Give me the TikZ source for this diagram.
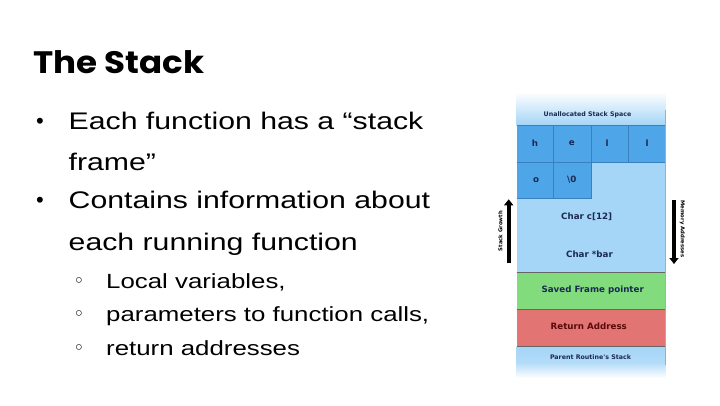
\documentclass[tikz,border=0pt]{standalone}
\usepackage{fontspec}
\usepackage{tikz}
\usetikzlibrary{positioning, arrows.meta}
\newfontfamily\bodyfont{Liberation Sans}[FakeStretch=1.26]
\newfontfamily\dotfont{Liberation Sans}
\newfontfamily\titlefont{Poppins}[FakeStretch=1.1]
\newfontfamily\stackfont{DejaVu Sans}
\definecolor{medblue}{HTML}{4EA5E8}
\definecolor{lightblue}{HTML}{A5D5F7}
\definecolor{framegreen}{HTML}{82DC7E}
\definecolor{retred}{HTML}{E27474}
\definecolor{cellline}{HTML}{3A80C0}
\definecolor{navy}{HTML}{1A2A50}
\definecolor{maroon}{HTML}{5A0A0A}

\begin{document}
\begin{tikzpicture}[x=1pt,y=-1pt,
  txt/.style={inner sep=0pt, anchor=base west},
  mainline/.style={txt, font=\bodyfont\fontsize{24}{28}\selectfont},
  subline/.style={txt, font=\bodyfont\fontsize{20.5}{24}\selectfont},
  bulletdot/.style={inner sep=0pt, anchor=base, font=\dotfont\fontsize{22}{26}\selectfont},
  subdot/.style={inner sep=0pt, anchor=base, font=\stackfont\fontsize{19}{22}\selectfont},
  celltext/.style={inner sep=0pt, text=navy, font=\stackfont\bfseries\fontsize{8.7}{10}\selectfont},
  smalltext/.style={inner sep=0pt, text=navy, font=\stackfont\bfseries\fontsize{6.3}{7}\selectfont},
  sidetext/.style={inner sep=0pt, font=\stackfont\bfseries\fontsize{5.3}{6}\selectfont},
  growarrow/.style={line width=4pt, -{Triangle[width=9pt,length=6pt]}}]
\useasboundingbox (0,0) rectangle (720,405);

% title and bullets
\node[txt, font=\titlefont\bfseries\fontsize{31}{36}\selectfont] (title) at (33,73.3) {The Stack};
\node[bulletdot] (b1) at (40,128) {•};
\node[mainline] (l1) at (68.5,129.3) {Each function has a “stack};
\node[mainline] (l2) at (68.5,170.5) {frame”};
\node[bulletdot] (b2) at (40,207.5) {•};
\node[mainline] (l3) at (68.5,208.7) {Contains information about};
\node[mainline] (l4) at (68.5,250) {each running function};
\node[subdot] (s1) at (79,287) {◦};
\node[subline] (sl1) at (106,288.3) {Local variables,};
\node[subdot] (s2) at (79,320.5) {◦};
\node[subline] (sl2) at (106,321.7) {parameters to function calls,};
\node[subdot] (s3) at (79,354) {◦};
\node[subline] (sl3) at (106,355) {return addresses};

% stack frame picture
\shade[top color=white, bottom color=lightblue] (516.7,92) rectangle (665.7,125);
\fill[lightblue] (516.7,162.3) rectangle (665.7,272.3);
\fill[medblue] (516.7,125) rectangle (665.7,162.3);
\fill[medblue] (516.7,162.3) rectangle (591.7,198.3);
\draw[cellline, line width=0.7pt] (516.7,125) -- (665.7,125)
  (516.7,162.3) -- (591.7,162.3) (516.7,198.3) -- (591.7,198.3)
  (553.3,125) -- (553.3,198.3) (591.7,125) -- (591.7,198.3)
  (628.3,125) -- (628.3,162.3) (591.7,162.3) -- (665.7,162.3);
\fill[framegreen] (516.7,272.3) rectangle (665.7,309.3);
\fill[retred] (516.7,309.3) rectangle (665.7,346.7);
\shade[top color=lightblue, bottom color=white, middle color=lightblue!85] (516.7,346.7) rectangle (665.7,378);
\draw[black!60, line width=0.6pt] (516.7,272.3) -- (665.7,272.3)
  (516.7,309.3) -- (665.7,309.3) (516.7,346.7) -- (665.7,346.7);
\draw[cellline!60, line width=0.5pt] (665.7,110) -- (665.7,365);

\node[smalltext] (unalloc) at (587.5,115) {Unallocated Stack Space};
\node[celltext] (ch) at (535,142.7) {h};
\node[celltext] (ce) at (571.7,142.7) {e};
\node[celltext] (cl1) at (607,142.7) {l};
\node[celltext] (cl2) at (647,142.7) {l};
\node[celltext] (co) at (536,180) {o};
\node[celltext] (cz) at (571.7,180) {\textbackslash 0};
\node[celltext] (arr) at (586.7,216.7) {Char c[12]};
\node[celltext] (bar) at (589.5,254) {Char *bar};
\node[celltext] (sfp) at (592.7,290) {Saved Frame pointer};
\node[celltext, text=maroon] (ret) at (588.8,326.7) {Return Address};
\node[smalltext] (parent) at (590.5,356.7) {Parent Routine's Stack};

% side arrows
\coordinate (growbot) at (508.7,263.3);
\coordinate (growtop) at (508.7,199.3);
\draw[growarrow] (growbot) -- (growtop);
\node[sidetext, rotate=90] (growth) at (500.5,231) {Stack Growth};
\coordinate (memtop) at (674,200);
\coordinate (membot) at (674,264);
\draw[growarrow] (memtop) -- (membot);
\node[sidetext, rotate=-90] (mem) at (682.3,229) {Memory Addresses};
\end{tikzpicture}
\end{document}
